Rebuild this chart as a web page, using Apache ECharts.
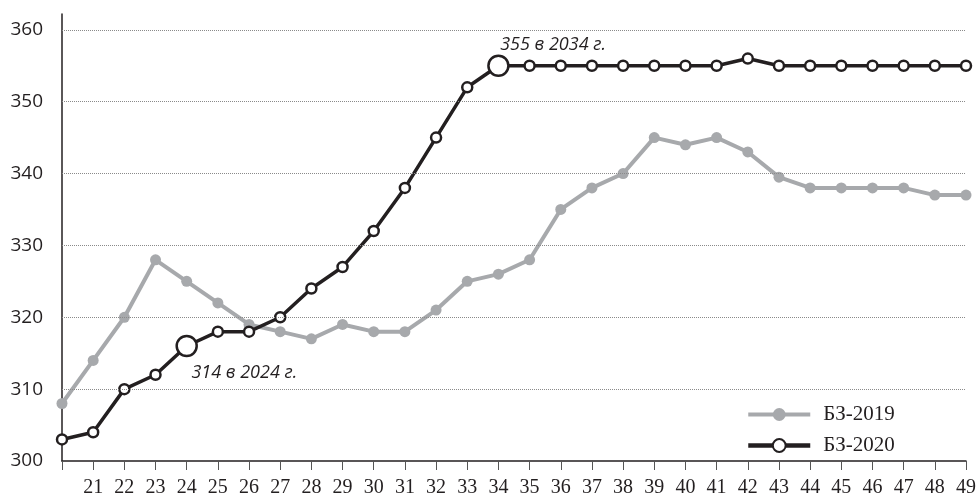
<!DOCTYPE html>
<html>
<head>
<meta charset="utf-8">
<script src="https://cdn.jsdelivr.net/npm/echarts@6/dist/echarts.min.js"></script>
<style>
html,body{margin:0;padding:0;background:#fff;}
#chart{width:979px;height:498px;}
</style>
</head>
<body>
<div id="chart"></div>
<script>
// Data
var years = ['20','21','22','23','24','25','26','27','28','29','30','31','32','33','34','35','36','37','38','39','40','41','42','43','44','45','46','47','48','49'];
var bz2019 = [308,314,320,328,325,322,319,318,317,319,318,318,321,325,326,328,335,338,340,345,344,345,343,339.5,338,338,338,338,337,337];
var bz2020 = [303,304,310,312,316,318,318,320,324,327,332,338,345,352,355,355,355,355,355,355,355,355,356,355,355,355,355,355,355,355];
var gridValues = [310,320,330,340,350,360];
var annYears = ['24','34'];
var annTexts = ['314 в 2024 г.','355 в 2034 г.'];

var chart = echarts.init(document.getElementById('chart'));

var annLabelStyle = [
  {position:[16,38], align:'left', verticalAlign:'middle'},
  {position:[13,-10], align:'left', verticalAlign:'middle'}
];

var blackData = bz2020.map(function(v,i){
  var k = annYears.indexOf(years[i]);
  if (k < 0) return v;
  return {
    value: v,
    symbolSize: 20,
    label: {
      show: true,
      formatter: annTexts[k],
      position: annLabelStyle[k].position,
      align: annLabelStyle[k].align,
      verticalAlign: annLabelStyle[k].verticalAlign,
      fontFamily: 'Open Sans',
      fontStyle: 'italic',
      fontSize: 18,
      color: '#231f20'
    }
  };
});

var option = {
  animation: false,
  backgroundColor: '#fff',
  grid: {left: 62, right: 5, top: 14, bottom: 36, containLabel: false},
  legend: {
    data: [
      {name: 'БЗ-2019', itemStyle: {color: '#a7a9ac'}, lineStyle: {width: 4, color: '#a7a9ac'}},
      {name: 'БЗ-2020', lineStyle: {width: 4.5, color: '#231f20'}}
    ],
    orient: 'vertical',
    left: 741,
    top: 399,
    itemWidth: 62,
    itemHeight: 16,
    itemGap: 10,
    textStyle: {fontFamily: 'Liberation Serif', fontSize: 21, color: '#231f20', padding:[0,0,0,8]}
  },
  xAxis: {
    type: 'category',
    data: years,
    boundaryGap: false,
    axisLine: {lineStyle: {color: '#231f20', width: 1.5}},
    axisTick: {show: true, length: 9, inside: false, alignWithLabel: true, lineStyle: {color: '#555', width: 1}},
    axisLabel: {
      interval: 0,
      margin: 17,
      fontFamily: 'Liberation Serif',
      fontSize: 20,
      color: '#231f20',
      formatter: function(v, i){ return i === 0 ? '' : v; }
    },
    splitLine: {show: false}
  },
  yAxis: {
    type: 'value',
    min: 300,
    max: 362.2,
    interval: 10,
    axisLine: {show: true, lineStyle: {color: '#231f20', width: 1.5}},
    axisTick: {show: false},
    axisLabel: {
      margin: 19,
      fontFamily: 'Open Sans',
      fontSize: 19,
      color: '#231f20',
      formatter: function(v){ return (Math.abs(v % 10) < 1e-6) ? String(v) : ''; }
    },
    splitLine: {show: false}
  },
  series: [
    {
      name: 'grid',
      type: 'line',
      data: [],
      z: 1,
      silent: true,
      markLine: {
        silent: true,
        symbol: ['none','none'],
        label: {show: false},
        lineStyle: {type: [1,1], color: '#8a8a8a', width: 1},
        emphasis: {disabled: true},
        data: gridValues.map(function(v){ return {yAxis: v}; })
      }
    },
    {
      name: 'БЗ-2019',
      type: 'line',
      data: bz2019,
      z: 3,
      symbol: 'circle',
      symbolSize: 11,
      showAllSymbol: true,
      itemStyle: {color: '#a7a9ac'},
      lineStyle: {color: '#a7a9ac', width: 4},
      emphasis: {disabled: true}
    },
    {
      name: 'БЗ-2020',
      type: 'line',
      data: blackData,
      z: 4,
      symbol: 'circle',
      symbolSize: 10,
      showAllSymbol: true,
      itemStyle: {color: '#ffffff', borderColor: '#231f20', borderWidth: 2.5},
      lineStyle: {color: '#231f20', width: 3.5},
      emphasis: {disabled: true}
    }
  ]
};
chart.setOption(option);
</script>
</body>
</html>
